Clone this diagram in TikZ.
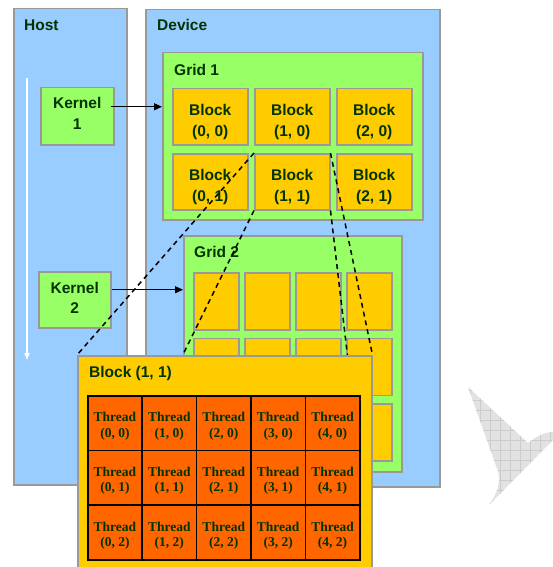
\documentclass[tikz,border=0pt]{standalone}
\usepackage{fontspec}
\setmainfont{Liberation Sans}
\newfontfamily\threadfont{Liberation Serif}
\usetikzlibrary{positioning, arrows.meta}
\definecolor{HostBlue}{RGB}{153, 204, 255}
\definecolor{GridGreen}{RGB}{153, 255, 102}
\definecolor{BlockYellow}{RGB}{255, 204, 0}
\definecolor{ThreadOrange}{RGB}{255, 102, 0}
\definecolor{EdgeGray}{RGB}{153, 153, 153}
\definecolor{TextGreen}{RGB}{0, 51, 0}
\definecolor{MarkGray}{RGB}{226, 226, 226}
\definecolor{MarkLine}{RGB}{204, 204, 204}
\pgfdeclarelayer{front}
\pgfsetlayers{main,front}

\tikzset{
  box/.style={draw=EdgeGray, line width=1.5pt, anchor=north west, inner sep=0pt},
  areabox/.style={box, fill=HostBlue},
  gridbox/.style={box, fill=GridGreen},
  kernelbox/.style={box, fill=GridGreen, minimum width=73pt, minimum height=57pt},
  blockbox/.style={box, fill=BlockYellow, minimum width=75pt, minimum height=56pt},
  emptyblock/.style={box, fill=BlockYellow, minimum width=45pt, minimum height=57pt},
  threadbox/.style={draw=black, line width=1.5pt, fill=ThreadOrange, anchor=north west,
    inner sep=0pt, minimum width=54.4pt, minimum height=54.7pt},
  boxtext/.style={align=center, inner sep=0pt, text=TextGreen,
    font=\bfseries\fontsize{15.5}{20.5}\selectfont},
  threadtext/.style={align=center, inner sep=0pt, text=TextGreen,
    font=\threadfont\bfseries\fontsize{13.5}{15.5}\selectfont},
  title/.style={anchor=west, inner sep=0pt, text=TextGreen, font=\bfseries\fontsize{15.5}{18}\selectfont},
  launch/.style={-{Triangle[length=8pt, width=7pt]}, line width=1.2pt},
  zoomline/.style={line width=1.5pt, dash pattern=on 5pt off 4pt}
}

\begin{document}
\begin{tikzpicture}[x=1pt, y=-1pt]
  \useasboundingbox (0,0) rectangle (553,567);

  % watermark in the corner
  \begin{scope}
    \path[clip] (468,387) -- (528,443) .. controls (537,436) and (545,432) .. (553,432)
      -- (553,440) -- (489,505) .. controls (497,494) and (503,480) .. (496,466) -- cycle;
    \fill[MarkGray] (460,380) rectangle (553,510);
    \draw[MarkLine, line width=0.6pt, step=10pt] (460,380) grid (553,510);
  \end{scope}

  % host and device
  \node[areabox, minimum width=113pt, minimum height=476pt] (host) at (13,8) {};
  \node[title] at ([shift={(11,17)}]host.north west) {Host};
  \node[areabox, minimum width=294pt, minimum height=477pt] (device) at (145,9) {};
  \node[title] at ([shift={(12,16)}]device.north west) {Device};

  % time line of the host
  \coordinate (tstart) at (27,78);
  \coordinate (tend) at (27,360);
  \draw[white, line width=1.5pt, -{Triangle[length=7pt, width=5pt]}] (tstart) -- (tend);

  % grid 1
  \node[gridbox, minimum width=260pt, minimum height=167pt] (grid1) at (162,52) {};
  \node[title] at ([shift={(12,18)}]grid1.north west) {Grid 1};
  \foreach \i in {0,1,2}
    \foreach \j in {0,1} {
      \node[blockbox] (b\i\j) at (172+82*\i, 88+65*\j) {};
      \node[boxtext] at ([yshift=-5pt]b\i\j.center) {Block\\(\i, \j)};
    }

  % grid 2
  \node[gridbox, minimum width=218pt, minimum height=236pt] (grid2) at (183,235) {};
  \node[title] at ([shift={(11,17)}]grid2.north west) {Grid 2};
  \foreach \i in {0,...,3}
    \foreach \j in {0,1,2}
      \node[emptyblock] (c\i\j) at (193+51*\i, 272+65.5*\j) {};

  % kernels
  \node[kernelbox] (k1) at (40,87) {};
  \node[boxtext] at ([yshift=3pt]k1.center) {Kernel\\1};
  \node[kernelbox, minimum width=72pt, minimum height=56pt] (k2) at (38,271) {};
  \node[boxtext] at ([yshift=2pt]k2.center) {Kernel\\2};
  \coordinate (a1) at ([shift={(-4,-9.5)}]k1.east);
  \coordinate (a2) at ([shift={(0,-10)}]k2.east);
  \draw[launch] (a1) -- (a1 -| grid1.west);
  \draw[launch] (a2) -- (a2 -| grid2.west);

  % block (1, 1) blown up
  \begin{pgfonlayer}{front}
    \node[box, fill=BlockYellow, minimum width=294pt, minimum height=213pt] (big) at (77,355) {};
    \node[title] at ([shift={(12,18)}]big.north west) {Block (1, 1)};
    \foreach \i in {0,...,4}
      \foreach \j in {0,1,2} {
        \node[threadbox] (t\i\j) at (87+54.4*\i, 395+54.7*\j) {};
        \node[threadtext] at ([yshift=-3pt]t\i\j.center) {Thread\\(\i, \j)};
      }
  \end{pgfonlayer}

  \draw[zoomline] (b11.north west) -- (big.north west);
  \draw[zoomline] (b11.south west) -- (big.south west);
  \draw[zoomline] (b11.north east) -- (big.north east);
  \draw[zoomline] (b11.south east) -- (big.south east);
\end{tikzpicture}
\end{document}
